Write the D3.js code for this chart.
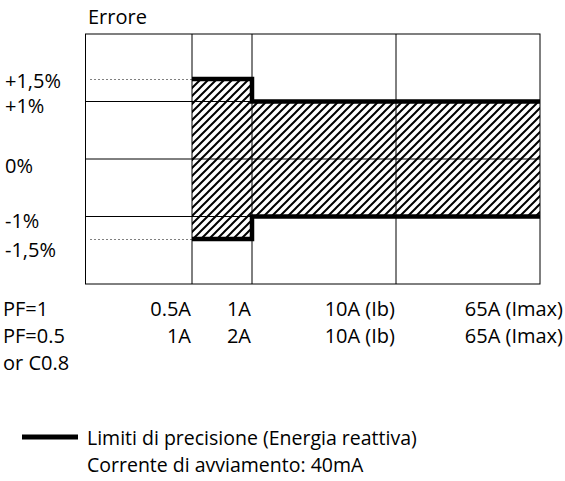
<!DOCTYPE html>
<html>
<head>
<meta charset="utf-8">
<script src="https://cdn.jsdelivr.net/npm/d3@7"></script>
<style>
    body { margin: 0; background: #fff; }
    svg text { font-family: "Open Sans", sans-serif; font-size: 20px; fill: #000; }
    svg text.legend { font-size: 19.5px; }
</style>
</head>
<body>
<div class="canvas"></div>
<script>
// column boundaries (index) and labels under them
const colIndex = [0, 1, 2, 3, 4]
const labelsPF1 = ['0.5A', '1A', '10A (Ib)', '65A (Imax)']
const labelsPF05 = ['1A', '2A', '10A (Ib)', '65A (Imax)']
const rowTitles = ['PF=1', 'PF=0.5', 'or C0.8']

// error levels (%)
const yTicks = [1.5, 1, 0, -1, -1.5]
const yLabels = ['+1,5%', '+1%', '0%', '-1%', '-1,5%']
const gridLevels = [1, 0, -1]
const dottedLevels = [1.5, -1.5]

// precision limits, step after each point
const upperLimit = [{ x: 1, y: 1.5 }, { x: 2, y: 1 }, { x: 4, y: 1 }]
const lowerLimit = [{ x: 1, y: -1.5 }, { x: 2, y: -1 }, { x: 4, y: -1 }]

const legendText = ['Limiti di precisione (Energia reattiva)', 'Corrente di avviamento: 40mA']

const dims = { width: 565, height: 481 }

// label baseline shift below each level (labels sit a bit under their line)
const yLabelShift = { '1.5': 9, '1': 11.5, '0': 14, '-1': 11.5, '-1.5': 18 }

const svg = d3.select('.canvas')
    .append('svg')
    .attr('width', dims.width)
    .attr('height', dims.height)

// scales (diagram is not to scale, so piecewise)
const x = d3.scaleLinear()
    .domain(colIndex)
    .range([85.5, 192, 252, 396, 540])

const y = d3.scaleLinear()
    .domain([-2.2, -1.5, -1, 0, 1, 1.5, 2.2])
    .range([284, 239, 216.5, 159, 101.5, 79, 34])

// hatch pattern
const defs = svg.append('defs')
const pat = defs.append('pattern')
    .attr('id', 'hatch')
    .attr('patternUnits', 'userSpaceOnUse')
    .attr('width', 8)
    .attr('height', 8)
pat.append('path')
    .attr('d', 'M-1,9 L9,-1 M-5,5 L5,-5 M3,13 L13,3')
    .attr('stroke', '#000')
    .attr('stroke-width', 2)

// hatched area between limits
const area = d3.area()
    .x(d => x(d.x))
    .y0((d, i) => y(lowerLimit[i].y))
    .y1(d => y(d.y))
    .curve(d3.curveStepAfter)

svg.append('path')
    .datum(upperLimit)
    .attr('fill', 'url(#hatch)')
    .attr('d', area)

// grid
const grid = svg.append('g')
    .attr('stroke', '#000')
    .attr('stroke-width', 1)
    .attr('fill', 'none')

grid.selectAll('.v')
    .data(colIndex.slice(1, 4))
    .enter().append('line')
    .attr('x1', d => x(d)).attr('x2', d => x(d))
    .attr('y1', y(2.2)).attr('y2', y(-2.2))

grid.selectAll('.h')
    .data(gridLevels)
    .enter().append('line')
    .attr('x1', x(0)).attr('x2', x(4))
    .attr('y1', d => y(d)).attr('y2', d => y(d))

grid.append('rect')
    .attr('x', x(0))
    .attr('y', y(2.2))
    .attr('width', x(4) - x(0))
    .attr('height', y(-2.2) - y(2.2))

// dotted guides
svg.selectAll('.dotted')
    .data(dottedLevels)
    .enter().append('line')
    .attr('x1', x(0) + 5).attr('x2', x(1))
    .attr('y1', d => y(d) + 0.5).attr('y2', d => y(d) + 0.5)
    .attr('stroke', '#000')
    .attr('stroke-width', 1)
    .attr('stroke-dasharray', '1 3')

// limit lines
const line = d3.line()
    .x(d => x(d.x))
    .y(d => y(d.y))
    .curve(d3.curveStepAfter)

svg.selectAll('.limit')
    .data([upperLimit, lowerLimit])
    .enter().append('path')
    .attr('fill', 'none')
    .attr('stroke', '#000')
    .attr('stroke-width', 4.5)
    .attr('d', line)

// y labels
svg.selectAll('.ylab')
    .data(yTicks)
    .enter().append('text')
    .attr('x', 5)
    .attr('y', d => y(d) + yLabelShift[d])
    .text((d, i) => yLabels[i])

svg.append('text')
    .attr('x', 88)
    .attr('y', 24)
    .text('Errore')

// x labels, right-aligned on the column boundaries
const rows = [labelsPF1, labelsPF05]
rows.forEach((labels, r) => {
    svg.selectAll('.xrow' + r)
        .data(labels)
        .enter().append('text')
        .attr('text-anchor', 'end')
        .attr('x', (d, i) => i === 3 ? dims.width - 2 : x(i + 1) - 1)
        .attr('y', 316 + r * 27)
        .text(d => d)
})

svg.selectAll('.rowtitle')
    .data(rowTitles)
    .enter().append('text')
    .attr('x', 3)
    .attr('y', (d, i) => 316 + i * 27)
    .text(d => d)

// legend
svg.append('line')
    .attr('x1', 22).attr('x2', 78)
    .attr('y1', 437).attr('y2', 437)
    .attr('stroke', '#000')
    .attr('stroke-width', 5)

svg.selectAll('.legendtext')
    .data(legendText)
    .enter().append('text')
    .attr('class', 'legend')
    .attr('x', 87)
    .attr('y', (d, i) => 445 + i * 27)
    .text(d => d)
</script>
</body>
</html>
